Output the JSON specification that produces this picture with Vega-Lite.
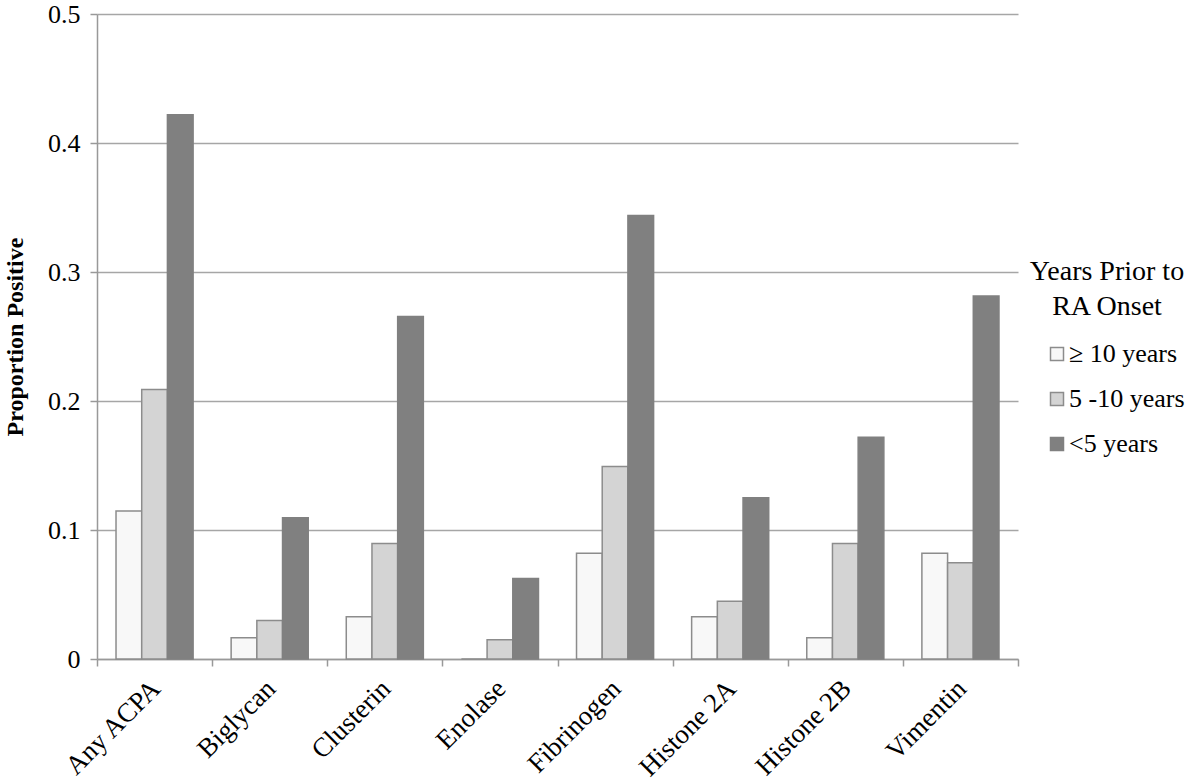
{
  "$schema": "https://vega.github.io/schema/vega-lite/v6.json",
  "width": 921,
  "height": 645,
  "autosize": {"type": "none"},
  "padding": {"left": 97, "top": 14, "right": 182, "bottom": 122},
  "background": "white",
  "config": {
    "view": {"stroke": null},
    "font": "Liberation Serif",
    "style": {
      "guide-label": {"font": "Liberation Serif"},
      "guide-title": {"font": "Liberation Serif"}
    },
    "legend": {"labelFont": "Liberation Serif", "titleFont": "Liberation Serif"},
    "axis": {"labelFont": "Liberation Serif", "titleFont": "Liberation Serif"}
  },
  "data": {
    "values": [
      {"antigen": "Any ACPA", "period": "≥ 10 years", "proportion": 0.1148},
      {"antigen": "Any ACPA", "period": "5 -10 years", "proportion": 0.209},
      {"antigen": "Any ACPA", "period": "<5 years", "proportion": 0.4219},
      {"antigen": "Biglycan", "period": "≥ 10 years", "proportion": 0.0164},
      {"antigen": "Biglycan", "period": "5 -10 years", "proportion": 0.0299},
      {"antigen": "Biglycan", "period": "<5 years", "proportion": 0.1094},
      {"antigen": "Clusterin", "period": "≥ 10 years", "proportion": 0.0328},
      {"antigen": "Clusterin", "period": "5 -10 years", "proportion": 0.0896},
      {"antigen": "Clusterin", "period": "<5 years", "proportion": 0.2656},
      {"antigen": "Enolase", "period": "≥ 10 years", "proportion": 0},
      {"antigen": "Enolase", "period": "5 -10 years", "proportion": 0.0149},
      {"antigen": "Enolase", "period": "<5 years", "proportion": 0.0625},
      {"antigen": "Fibrinogen", "period": "≥ 10 years", "proportion": 0.082},
      {"antigen": "Fibrinogen", "period": "5 -10 years", "proportion": 0.1493},
      {"antigen": "Fibrinogen", "period": "<5 years", "proportion": 0.3438},
      {"antigen": "Histone 2A", "period": "≥ 10 years", "proportion": 0.0328},
      {"antigen": "Histone 2A", "period": "5 -10 years", "proportion": 0.0448},
      {"antigen": "Histone 2A", "period": "<5 years", "proportion": 0.125},
      {"antigen": "Histone 2B", "period": "≥ 10 years", "proportion": 0.0164},
      {"antigen": "Histone 2B", "period": "5 -10 years", "proportion": 0.0896},
      {"antigen": "Histone 2B", "period": "<5 years", "proportion": 0.1719},
      {"antigen": "Vimentin", "period": "≥ 10 years", "proportion": 0.082},
      {"antigen": "Vimentin", "period": "5 -10 years", "proportion": 0.0746},
      {"antigen": "Vimentin", "period": "<5 years", "proportion": 0.2813}
    ]
  },
  "mark": {"type": "bar", "strokeWidth": 1.5},
  "encoding": {
    "x": {
      "field": "antigen",
      "type": "nominal",
      "sort": null,
      "scale": {"paddingInner": 0, "paddingOuter": 0},
      "axis": {
        "title": null,
        "tickBand": "extent",
        "labelAngle": -45,
        "labelFont": "Liberation Serif",
        "labelFontSize": 27,
        "labelColor": "black",
        "labelPadding": 9,
        "labelOffset": -8,
        "domainColor": "#999999",
        "domainWidth": 1.5,
        "tickColor": "#999999",
        "tickWidth": 1.5,
        "tickSize": 7,
        "grid": false
      }
    },
    "xOffset": {
      "field": "period",
      "type": "nominal",
      "sort": ["≥ 10 years", "5 -10 years", "<5 years"],
      "scale": {"paddingInner": 0, "paddingOuter": 0.74}
    },
    "y": {
      "field": "proportion",
      "type": "quantitative",
      "scale": {"domain": [0, 0.5]},
      "axis": {
        "title": "Proportion Positive",
        "titleFont": "Liberation Serif",
        "titleFontSize": 24,
        "titleFontWeight": "bold",
        "titleColor": "black",
        "titlePadding": 20,
        "values": [0, 0.1, 0.2, 0.3, 0.4, 0.5],
        "format": "~g",
        "labelFont": "Liberation Serif",
        "labelFontSize": 26,
        "labelColor": "black",
        "labelPadding": 10,
        "tickSize": 7,
        "tickColor": "#999999",
        "tickWidth": 1.5,
        "domainColor": "#999999",
        "domainWidth": 1.5,
        "gridColor": "#a6a6a6",
        "gridWidth": 1.5
      }
    },
    "fill": {
      "field": "period",
      "type": "nominal",
      "scale": {
        "domain": ["≥ 10 years", "5 -10 years", "<5 years"],
        "range": ["#f8f8f8", "#d4d4d4", "#808080"]
      },
      "legend": {
        "title": ["Years Prior to", "RA Onset"],
        "orient": "none",
        "legendX": 933,
        "legendY": 244,
        "titleFont": "Liberation Serif",
        "titleFontSize": 28,
        "titleFontWeight": "normal",
        "titleColor": "black",
        "titleAnchor": "middle",
        "titleAlign": "center",
        "titleLineHeight": 35,
        "titlePadding": 20,
        "labelFont": "Liberation Serif",
        "labelFontSize": 26,
        "labelColor": "black",
        "labelOffset": -1,
        "symbolType": "square",
        "symbolSize": 169,
        "symbolStrokeWidth": 1.5,
        "symbolStrokeColor": "#8c8c8c",
        "symbolOffset": 14,
        "rowPadding": 19
      }
    },
    "stroke": {
      "field": "period",
      "type": "nominal",
      "scale": {
        "domain": ["≥ 10 years", "5 -10 years", "<5 years"],
        "range": ["#8c8c8c", "#8c8c8c", "#808080"]
      },
      "legend": null
    }
  }
}
